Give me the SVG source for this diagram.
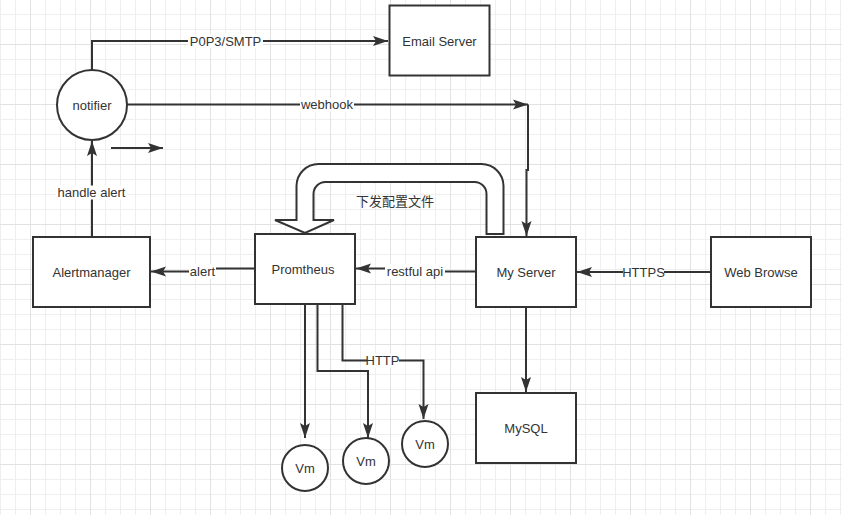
<svg xmlns="http://www.w3.org/2000/svg" width="842" height="515" viewBox="0 0 842 515">
<style>
.box{fill:#fff;stroke:#333;stroke-width:2}
.ln{fill:none;stroke:#333;stroke-width:2}
.t{font-family:"Liberation Sans",Arial,sans-serif;font-size:13px;fill:#333;text-anchor:middle;dominant-baseline:central}
.cjk{font-family:"Noto Sans CJK SC","Liberation Sans",sans-serif}
.lb{fill:#fff}
</style>
<defs>
<pattern id="grid" x="0" y="-1" width="60" height="60" patternUnits="userSpaceOnUse">
<path d="M0.5,0V60M15.5,0V60M45.5,0V60M0,0.5H60M0,15.5H60M0,30.5H60" stroke="#efefef" stroke-width="1" fill="none"/>
<path d="M30.5,0V60M0,45.5H60" stroke="#e2e2e2" stroke-width="1" fill="none"/>
</pattern>
<marker id="arr" markerUnits="userSpaceOnUse" markerWidth="17" markerHeight="12" viewBox="0 0 17 12" refX="16" refY="6" orient="auto">
<path d="M1,1L16,6L1,11L4,6z" fill="#333"/>
</marker>
</defs>
<rect width="842" height="515" fill="#fff"/>
<rect width="842" height="515" fill="url(#grid)"/>

<g id="connectors">
<path class="ln" d="M92,70V41H388" marker-end="url(#arr)"/>
<path class="ln" d="M127,104.5H528" marker-end="url(#arr)"/>
<path class="ln" d="M528,104.5V170H526.5V236" marker-end="url(#arr)"/>
<path class="ln" d="M92,237V141" marker-end="url(#arr)"/>
<path class="ln" d="M111,148H163" marker-end="url(#arr)"/>
<path class="ln" d="M255,268.5H203V271.5H151" marker-end="url(#arr)"/>
<path class="ln" d="M476,271.5H415V268.5H356" marker-end="url(#arr)"/>
<path class="ln" d="M711,272H577" marker-end="url(#arr)"/>
<path class="ln" d="M526,307V392" marker-end="url(#arr)"/>
<path class="ln" d="M305,304V438" marker-end="url(#arr)"/>
<path class="ln" d="M317.5,304V371H368V438" marker-end="url(#arr)"/>
<path class="ln" d="M342.5,304V360.5H423.5V419" marker-end="url(#arr)"/>
<path class="box" d="M503.5,234V186A22,22 0 0 0 481.5,164H318.5A22,22 0 0 0 296.5,186V220H275L305,233L334,220H313.5V194A12,12 0 0 1 325.5,182H474.5A12,12 0 0 1 486.5,194V234Z"/>
<rect class="lb" x="188" y="34" width="75" height="14"/>
<text class="t" x="225.5" y="41">P0P3/SMTP</text>
<rect class="lb" x="300" y="97.5" width="54" height="14"/>
<text class="t" x="327" y="104.5">webhook</text>
<rect class="lb" x="56" y="185.5" width="71" height="14"/>
<text class="t" x="91.5" y="192.5">handle alert</text>
<rect class="lb" x="189" y="264" width="27" height="15"/>
<text class="t" x="202.5" y="271.5">alert</text>
<rect class="lb" x="385" y="264" width="60" height="15"/>
<text class="t" x="415" y="271.5">restful api</text>
<rect class="lb" x="623" y="265" width="41" height="14"/>
<text class="t" x="643.5" y="272">HTTPS</text>
<rect class="lb" x="367" y="353.5" width="32" height="14"/>
<text class="t" x="382.5" y="360.5">HTTP</text>
<text class="t cjk" x="395" y="200">下发配置文件</text>
</g>

<g id="email-server"><rect class="box" x="389.5" y="5.5" width="100" height="70"/><text class="t" x="439.5" y="41">Email Server</text></g>
<g id="notifier"><circle class="box" cx="92" cy="105" r="35"/><text class="t" x="92" y="105">notifier</text></g>
<g id="alertmanager"><rect class="box" x="33" y="237" width="117" height="70"/><text class="t" x="91.5" y="272">Alertmanager</text></g>
<g id="promtheus"><rect class="box" x="255" y="234" width="100" height="70"/><text class="t" x="303" y="269">Promtheus</text></g>
<g id="my-server"><rect class="box" x="476" y="237" width="100" height="70"/><text class="t" x="526" y="272.5">My Server</text></g>
<g id="web-browse"><rect class="box" x="711" y="237" width="100" height="70"/><text class="t" x="761" y="272">Web Browse</text></g>
<g id="mysql"><rect class="box" x="476" y="393" width="100" height="70"/><text class="t" x="526" y="428">MySQL</text></g>
<g id="vm1"><circle class="box" cx="305" cy="468" r="23"/><text class="t" x="305" y="468">Vm</text></g>
<g id="vm2"><circle class="box" cx="366" cy="461" r="23"/><text class="t" x="366" y="461">Vm</text></g>
<g id="vm3"><circle class="box" cx="425" cy="444" r="23"/><text class="t" x="425" y="444">Vm</text></g>
</svg>
